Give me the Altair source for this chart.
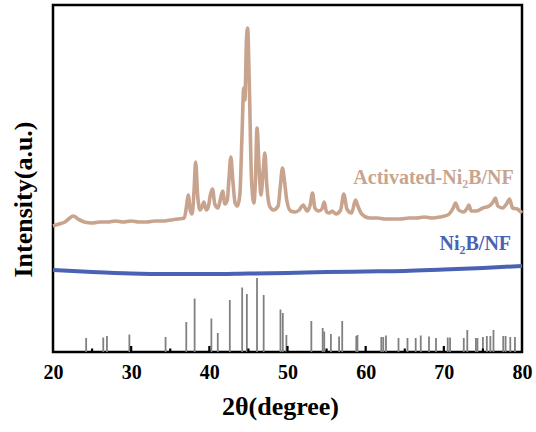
import altair as alt
import pandas as pd

# Activated-Ni2B/NF pattern (2theta, intensity a.u.)
act_2theta = [20.0, 20.8, 21.5, 22.0, 22.6, 23.2, 24.0, 25.0, 26.0, 27.0, 28.0, 29.0, 30.0, 31.0,
              32.0, 33.0, 34.0, 35.0, 36.0, 36.8, 37.1, 37.3, 37.55, 37.8, 38.05, 38.25, 38.5, 38.8,
              39.0, 39.3, 39.6, 39.9, 40.1, 40.4, 40.7, 41.1, 41.4, 41.7, 42.0, 42.3, 42.5, 42.75,
              43.0, 43.3, 43.6, 43.9, 44.2, 44.4, 44.55, 44.75, 44.9, 45.1, 45.4, 45.7, 45.9, 46.1,
              46.35, 46.6, 46.9, 47.1, 47.35, 47.7, 48.2, 48.8, 49.1, 49.35, 49.6, 49.9, 50.4, 51.0,
              51.5, 52.0, 52.5, 52.9, 53.2, 53.5, 54.0, 54.4, 54.7, 55.0, 55.4, 55.7, 56.2, 56.8,
              57.2, 57.6, 58.2, 58.7, 59.0, 59.5, 60.5, 61.5, 62.5, 63.5, 64.5, 65.5, 66.5, 67.5,
              68.5, 69.5, 70.5, 71.2, 71.5, 71.9, 72.5, 73.0, 73.2, 73.5, 74.2, 75.0, 75.8, 76.3,
              76.6, 76.9, 77.5, 78.1, 78.4, 78.8, 79.4, 80.0]
act_int = [126, 128, 130, 133, 136, 133, 130, 129, 130, 130, 131, 130, 131, 130,
           130, 131, 131, 132, 133, 134, 147, 157, 142, 138, 162, 190, 157, 142,
           144, 150, 142, 146, 156, 163, 148, 144, 152, 161, 148, 152, 172, 195,
           172, 149, 146, 157, 222, 264, 252, 312, 324, 272, 172, 149, 172, 224,
           187, 157, 182, 199, 167, 146, 142, 146, 167, 184, 172, 152, 141, 140,
           142, 147, 141, 147, 159, 144, 141, 143, 150, 140, 139, 141, 138, 142,
           158, 143, 139, 152, 146, 138, 134, 134, 133, 133, 133, 134, 134, 135,
           134, 135, 137, 144, 149, 142, 140, 144, 147, 141, 141, 144, 146, 150,
           154, 146, 144, 149, 153, 144, 143, 139]

# Ni2B/NF pattern
ni_2theta = [20, 25, 30, 35, 40, 45, 50, 55, 60, 65, 70, 75, 80]
ni_int = [82, 80, 78.5, 78, 78, 78.5, 79, 80, 80.5, 81, 82.5, 84, 86]

# Reference (standard card) lines
ref_2theta = [24.24, 26.43, 26.9, 29.77, 34.4, 37.05, 38.12, 40.26, 41.08, 42.62, 44.2, 44.8,
              46.1, 46.95, 49.1, 49.4, 49.86, 53.05, 54.5, 54.7, 55.55, 56.6, 57.0, 58.8, 58.95,
              62.0, 62.25, 62.6, 64.2, 65.35, 66.4, 67.05, 68.1, 69.0, 70.5, 70.8, 72.55, 73.0,
              74.1, 74.3, 75.0, 75.5, 75.95, 76.35, 77.6, 77.9, 78.5, 79.1]
ref_int = [14, 14.5, 16, 17.5, 15, 30, 53.5, 33.5, 19, 52, 64.5, 58,
           74, 57, 42.5, 39, 17, 31, 24, 20.5, 18, 15.5, 31, 16, 17,
           15, 15, 16.5, 14, 14, 14, 16.5, 15.5, 14, 14.5, 14.5, 14, 22,
           14, 14, 15, 16, 16, 22, 16, 16, 15, 15]

tick_major = [30, 40, 50, 60, 70]
tick_minor = [25, 35, 45, 55, 65, 75]
x_labels = [20, 30, 40, 50, 60, 70, 80]

label_text = ["Activated-Ni\u2082B/NF", "Ni\u2082B/NF"]
label_2theta = [78.95, 78.6]
label_int = [168.5, 102.5]

TAN = "#c8a48e"
BLUE = "#4a62b3"
FONT = "Liberation Serif"

W, H = 469, 347

act_df = pd.DataFrame({"x": act_2theta, "y": act_int})
ni_df = pd.DataFrame({"x": ni_2theta, "y": ni_int})
ref_df = pd.DataFrame({"x": ref_2theta, "y": ref_int})
maj_df = pd.DataFrame({"x": tick_major})
min_df = pd.DataFrame({"x": tick_minor})

xscale = alt.Scale(domain=[20, 80], nice=False)
yscale = alt.Scale(domain=[0, 347], nice=False, zero=True)

xaxis = alt.Axis(values=x_labels, title="2\u03b8(degree)", ticks=False, domain=False, grid=False,
                 labelFont=FONT, labelFontSize=20, labelFontWeight="bold", labelColor="black",
                 labelFlush=False, labelPadding=10, titleFont=FONT, titleFontSize=26,
                 titleFontWeight="bold", titleColor="black", titlePadding=11, titleX=227,
                 titleAlign="center")
yaxis = alt.Axis(labels=False, ticks=False, domain=False, grid=False, title="Intensity(a.u.)",
                 titleFont=FONT, titleFontSize=26, titleFontWeight="bold", titleColor="black",
                 titleX=-30, titleY=194, titleAlign="center", titleBaseline="middle", titleAngle=270)

ref = alt.Chart(ref_df).mark_rule(color="#808080", strokeWidth=1.8).encode(
    x=alt.X("x:Q", scale=xscale, axis=xaxis),
    y=alt.Y("y:Q", scale=yscale, axis=yaxis),
    y2=alt.datum(0),
)

maj = alt.Chart(maj_df).mark_rule(color="black", strokeWidth=2.2).encode(
    x="x:Q", y=alt.value(H), y2=alt.value(H - 6))
mnr = alt.Chart(min_df).mark_rule(color="black", strokeWidth=2.2).encode(
    x="x:Q", y=alt.value(H), y2=alt.value(H - 3.5))

ni = alt.Chart(ni_df).mark_line(color=BLUE, strokeWidth=4, interpolate="monotone").encode(
    x="x:Q", y="y:Q")
act = alt.Chart(act_df).mark_line(color=TAN, strokeWidth=3.6, interpolate="monotone").encode(
    x="x:Q", y="y:Q")

lab_df = pd.DataFrame({"t": label_text, "x": label_2theta, "y": label_int, "c": [TAN, BLUE]})
labels = alt.Chart(lab_df).mark_text(font=FONT, fontSize=20, fontWeight="bold", align="right",
                                     baseline="alphabetic").encode(
    x="x:Q", y="y:Q", text="t:N", color=alt.Color("c:N", scale=None))

chart = alt.layer(ref, maj, mnr, ni, act, labels).properties(
    width=W, height=H,
    background="white",
    autosize=alt.AutoSizeParams(type="none"),
    padding={"left": 53, "top": 5, "right": 14, "bottom": 80},
).configure_view(stroke="black", strokeWidth=2.5)

chart.save("out.html", embed_options={"renderer": "svg", "actions": False})
